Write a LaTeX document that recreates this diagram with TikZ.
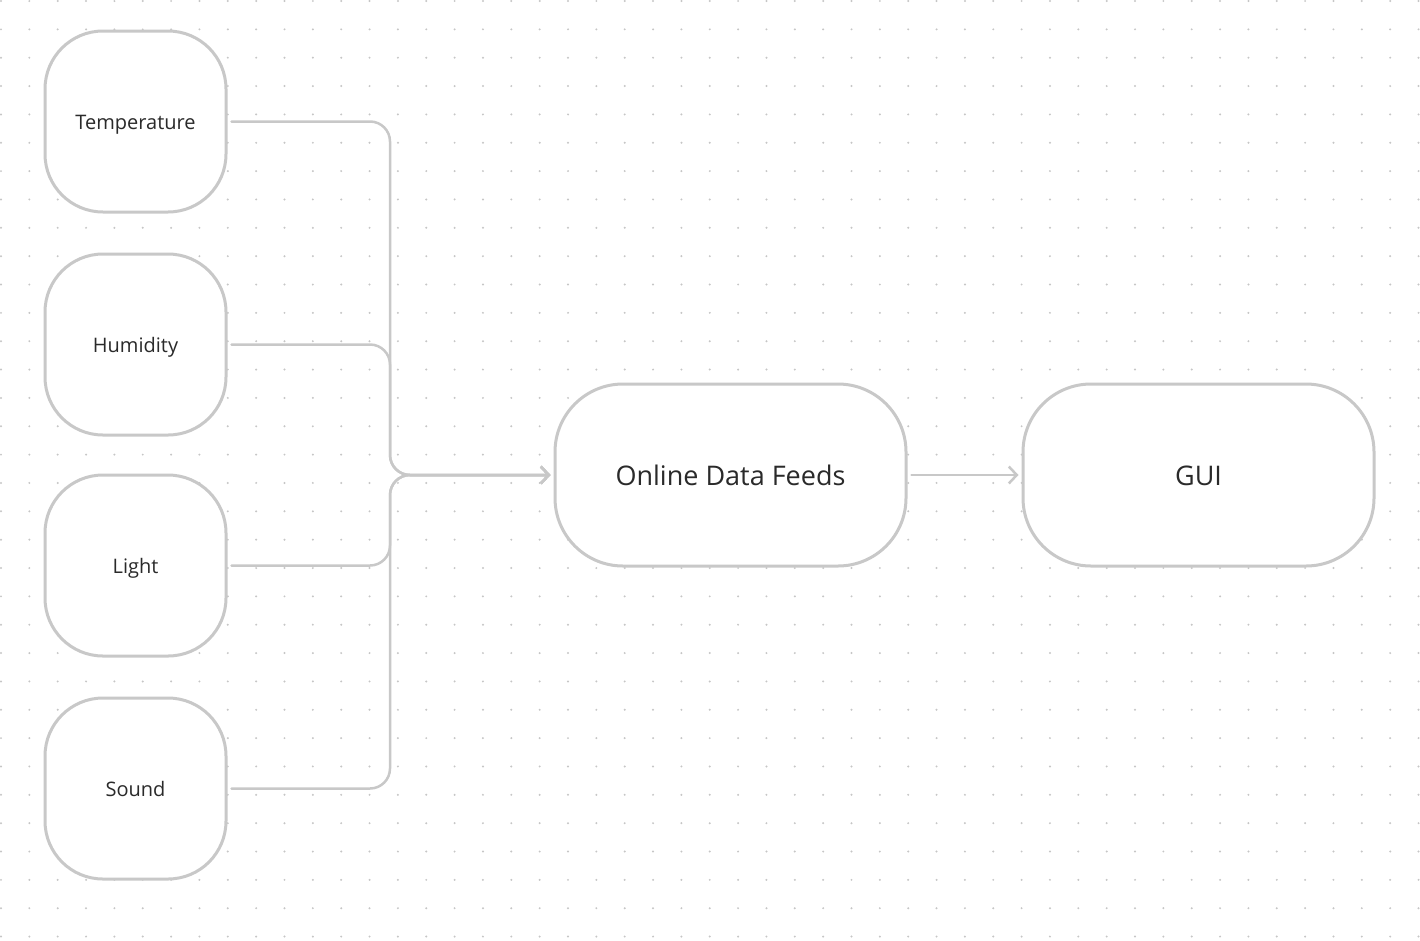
\documentclass[tikz,border=0pt]{standalone}
\usepackage{fontspec}
\usepackage{xcolor}
\usepackage{tikz}
\usetikzlibrary{arrows.meta}
\setmainfont{Open Sans}
\definecolor{edgegray}{HTML}{C8C8C8}
\definecolor{dotgray}{HTML}{C6C6C6}
\definecolor{textgray}{HTML}{2A2A2A}

\begin{document}
\begin{tikzpicture}[line cap=round,line join=round,x=1pt,y=-1pt,
  sensor/.style={draw=edgegray,line width=3,fill=white,rounded corners=58,
    minimum width=181,minimum height=181,inner sep=0,
    text height=15,text depth=0,
    text=textgray,font=\fontsize{20}{24}\selectfont},
  stage/.style={draw=edgegray,line width=3,fill=white,rounded corners=68,
    minimum width=351,minimum height=182,inner sep=0,
    text height=21,text depth=0,
    text=textgray,font=\fontsize{27}{32}\selectfont},
  link/.style={draw=edgegray,line width=2.5,rounded corners=20},
  tip/.style={-{Straight Barb[length=8,width=17,line width=2.5]}}]
\useasboundingbox (0,0) rectangle (1420,940);
\fill[white] (0,0) rectangle (1420,940);
\foreach \i in {0,...,50}
  \foreach \j in {0,...,33}
    \fill[dotgray] (1+28.35*\i,1+28.35*\j) circle (1.1);
\node[sensor] (temp) at (135.5,121.5) {Temperature};
\node[sensor] (humid) at (135.5,344.5) {Humidity};
\node[sensor] (light) at (135.5,565.5) {Light};
\node[sensor] (sound) at (135.5,788.5) {Sound};
\node[stage] (feeds) at (730.5,475) {Online Data Feeds};
\node[stage] (gui) at (1198.5,475) {GUI};
\coordinate (merge) at (390,475);
\foreach \s in {temp,humid,light,sound}
  \draw[link,tip] ([xshift=4]\s.east) -| (merge) -- ([xshift=-3]feeds.west);
\draw[link,tip] ([xshift=4]feeds.east) -- ([xshift=-3]gui.west);
\end{tikzpicture}
\end{document}
